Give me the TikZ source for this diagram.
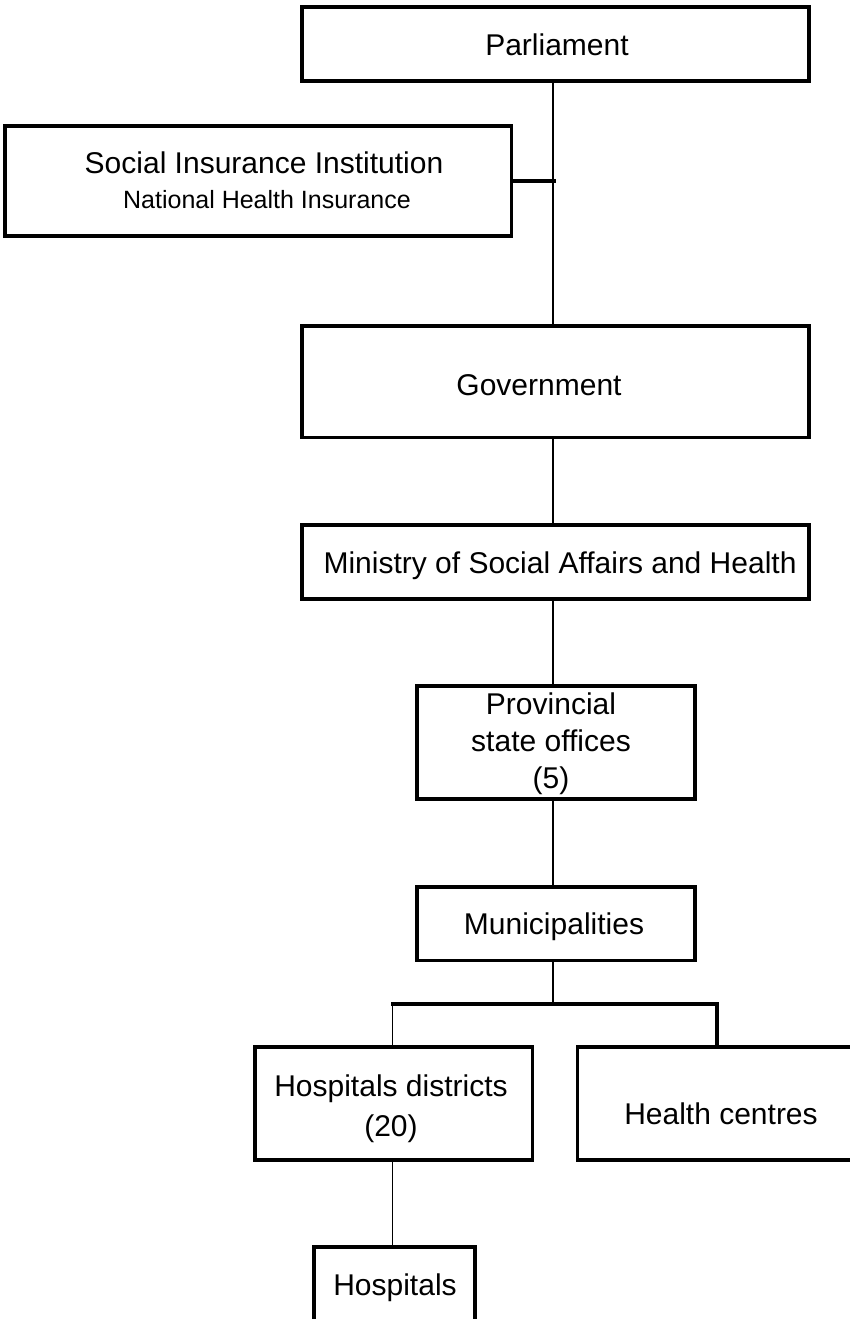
\documentclass[tikz,border=0pt]{standalone}
\usepackage{fontspec}
\setmainfont{Liberation Sans}
\begin{document}
\begin{tikzpicture}[x=1pt,y=-1pt,
  box/.style={draw, rectangle, line width=3.2pt, inner sep=0pt, outer sep=0pt},
  lbl/.style={inner sep=0pt, text height=21.5pt, text depth=0pt, font=\fontsize{30}{37}\selectfont},
  mlbl/.style={inner sep=0pt, align=center, font=\fontsize{30}{37}\selectfont},
  conn/.style={line width=1.5pt},
  heavy/.style={line width=4.2pt, line join=miter}]
\clip (0,0) rectangle (850,1319);
% boxes
\node[box, minimum width=507, minimum height=74] (parl) at (555.5,44) {};
\node[box, minimum width=506.5, minimum height=110] (sii) at (258.25,181) {};
\node[box, minimum width=507, minimum height=111.5] (gov) at (555.5,381.75) {};
\node[box, minimum width=507, minimum height=74] (min) at (555.5,562) {};
\node[box, minimum width=278, minimum height=113] (prov) at (556,742.5) {};
\node[box, minimum width=278, minimum height=73.5] (mun) at (556,923.75) {};
\node[box, minimum width=277.4, minimum height=113] (hd) at (393.7,1103.5) {};
\node[box, minimum width=287, minimum height=113] (hc) at (721,1103.5) {};
\node[box, minimum width=161, minimum height=78] (hosp) at (394.5,1286) {};
% texts
\node[lbl] (parlT) at (557,45) {Parliament};
\node[lbl] (siiT1) at (264,163) {Social Insurance Institution};
\node[inner sep=0pt, text height=18pt, text depth=0pt, font=\fontsize{25}{30}\selectfont] (siiT2) at (267,199.5) {National Health Insurance};
\node[lbl] (govT) at (539,384.6) {Government};
\node[lbl] (minT) at (560,562.6) {Ministry of Social Affairs and Health};
\node[mlbl] (provT) at (551,744) {Provincial\\state offices\\(5)};
\node[lbl] (munT) at (554,924) {Municipalities};
\node[mlbl, font=\fontsize{30}{40}\selectfont] (hdT) at (391,1108.5) {Hospitals districts\\(20)};
\node[lbl] (hcT) at (721,1114) {Health centres};
\node[lbl] (hospT) at (395,1284.6) {Hospitals};
% connector coordinates
\coordinate (spine) at (553,0);
\coordinate (barM) at (553,1004);
\coordinate (barL) at (392.7,1004);
\coordinate (barR) at (717,1004);
\coordinate (stubEnd) at (556,181);
% connectors
\draw[conn] (parl.south -| spine) -- (gov.north -| spine);
\draw[heavy] (sii.east) -- (stubEnd);
\draw[conn] (gov.south -| spine) -- (min.north -| spine);
\draw[conn] (min.south -| spine) -- (prov.north -| spine);
\draw[conn] (prov.south -| spine) -- (mun.north -| spine);
\draw[conn] (mun.south -| spine) -- (barM);
\draw[heavy] ([xshift=-1.5pt]barL) -- (barR) -- (hc.north -| barR);
\draw[conn] (barL) -- (hd.north -| barL);
\draw[conn] (hd.south -| barL) -- (hosp.north -| barL);
\end{tikzpicture}
\end{document}
